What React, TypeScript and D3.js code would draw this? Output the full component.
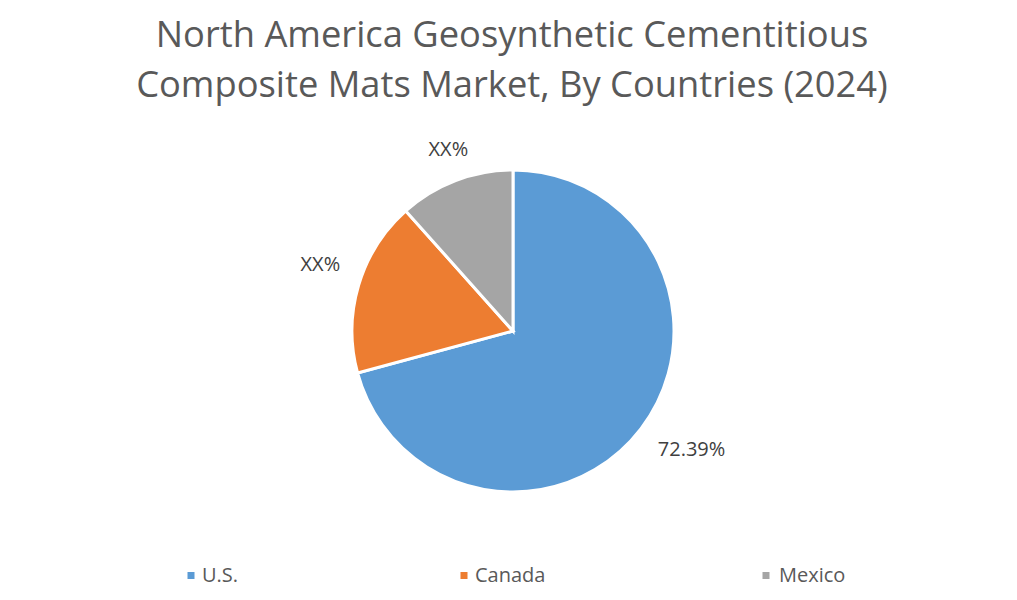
import React from "react";
import * as d3 from "d3";

const categories = ["U.S.", "Canada", "Mexico"];
const values = [70.8, 17.6, 11.6];
const labels = ["72.39%", "XX%", "XX%"];
const colors = ["#5B9BD5", "#ED7D31", "#A5A5A5"];
const titleLines = [
  "North America Geosynthetic Cementitious",
  "Composite Mats Market, By Countries (2024)",
];

const W = 1017;
const H = 600;
const FONT = "'Open Sans', 'Liberation Sans', sans-serif";
// layout nudges for data labels (Excel best-fit placement)
const labelNudge: [number, number][] = [
  [19, -5],
  [0, -10],
  [7, 5],
];
const legendMarkerX = [191, 464, 766];
const legendTextX = [202, 475, 779];

export default function App() {
  const cx = 513;
  const cy = 331;
  const r = 161;
  const pie = d3.pie<number>().sort(null).value((d) => d)(values);
  const arc = d3.arc<d3.PieArcDatum<number>>().innerRadius(0).outerRadius(r);
  const labelArc = d3
    .arc<d3.PieArcDatum<number>>()
    .innerRadius(r + 40)
    .outerRadius(r + 40);
  return (
    <svg width={W} height={H} style={{ position: "absolute", left: 0, top: 0 }}>
      <rect width={W} height={H} fill="#fff" />
      {titleLines.map((t, i) => (
        <text
          key={i}
          x={512}
          y={47 + i * 50}
          textAnchor="middle"
          fontFamily={FONT}
          fontSize={36.3}
          fill="#595959"
        >
          {t}
        </text>
      ))}
      <g transform={`translate(${cx},${cy})`}>
        {pie.map((p, i) => (
          <path key={i} d={arc(p) || ""} fill={colors[i]} stroke="#fff" strokeWidth={3} />
        ))}
        {pie.map((p, i) => {
          const [lx, ly] = labelArc.centroid(p);
          return (
            <text
              key={"l" + i}
              x={lx + labelNudge[i][0]}
              y={ly + labelNudge[i][1]}
              textAnchor="middle"
              dominantBaseline="central"
              fontFamily={FONT}
              fontSize={20}
              fill="#404040"
            >
              {labels[i]}
            </text>
          );
        })}
      </g>
      {categories.map((c, i) => (
        <g key={c}>
          <rect
            x={legendMarkerX[i] - 3.5}
            y={572}
            width={7}
            height={7}
            fill={colors[i]}
          />
          <text
            x={legendTextX[i]}
            y={582}
            fontFamily={FONT}
            fontSize={20}
            fill="#595959"
          >
            {c}
          </text>
        </g>
      ))}
    </svg>
  );
}
